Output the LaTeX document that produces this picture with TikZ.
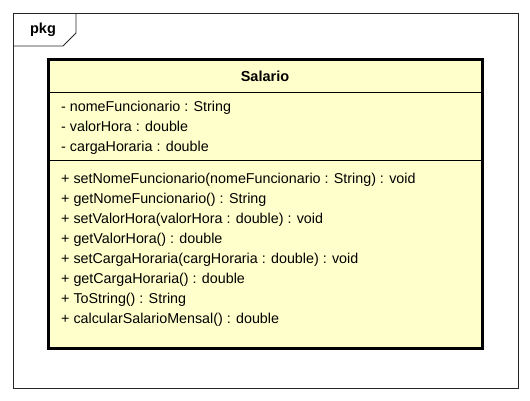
\documentclass[tikz,border=0pt]{standalone}
\usepackage{fontspec}
\setmainfont{Liberation Sans}
\usepackage{xcolor}
\usetikzlibrary{positioning,calc}

\definecolor{classfill}{HTML}{FFFFCC}

\tikzset{
  member/.style={anchor=west,inner sep=0pt,text height=10.5pt,text depth=3pt,
    font=\fontsize{14.3}{17}\selectfont},
  frameline/.style={draw=black!85,line width=0.8pt},
}

\begin{document}
\begin{tikzpicture}[x=1pt,y=-1pt]
        \useasboundingbox (0,0) rectangle (530,401);
        % package frame with its tab
        \draw[frameline] (13,13) rectangle (518,388);
        \draw[frameline] (13,46) -- (63,46) -- (76,33) -- (76,13);
        \node[font=\bfseries\fontsize{14.5}{17}\selectfont] (pkg) at (43,30) {pkg};
        % class box
        \draw[line width=3pt,fill=classfill] (48,60) rectangle (482,348);
        \node[font=\bfseries\fontsize{14.5}{17}\selectfont] (cls) at (265,76) {Salario};
        \draw[line width=0.8pt] (48,92) -- (482,92);
        \draw[line width=0.8pt] (48,160) -- (482,160);
        % attributes
        \node[member] (at1) at (61,108) {- nomeFuncionario : String};
        \node[member] (at2) at (61,128) {- valorHora : double};
        \node[member] (at3) at (61,148) {- cargaHoraria : double};
        % operations
        \node[member] (op1) at (61,180) {+ setNomeFuncionario(nomeFuncionario : String) : void};
        \node[member] (op2) at (61,200) {+ getNomeFuncionario() : String};
        \node[member] (op3) at (61,220) {+ setValorHora(valorHora : double) : void};
        \node[member] (op4) at (61,240) {+ getValorHora() : double};
        \node[member] (op5) at (61,260) {+ setCargaHoraria(cargHoraria : double) : void};
        \node[member] (op6) at (61,280) {+ getCargaHoraria() : double};
        \node[member] (op7) at (61,300) {+ ToString() : String};
        \node[member] (op8) at (61,320) {+ calcularSalarioMensal() : double};
\end{tikzpicture}
\end{document}
